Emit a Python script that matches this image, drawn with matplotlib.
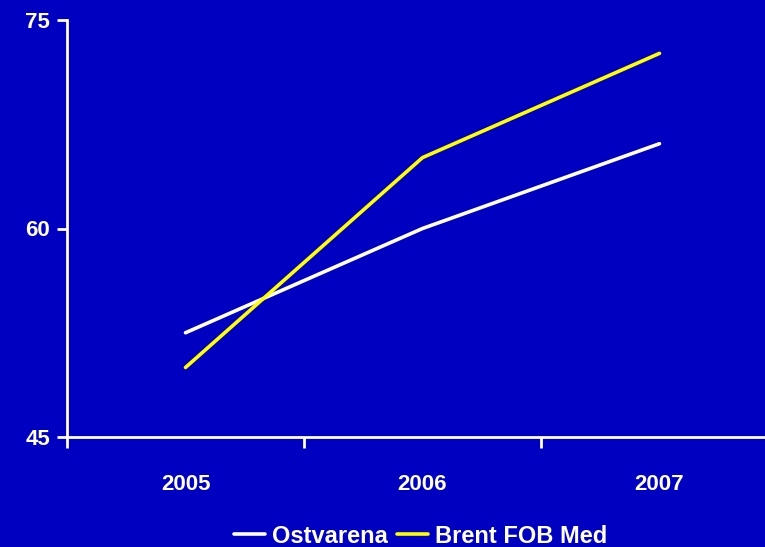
import numpy as np
import matplotlib.pyplot as plt

# data
years = ['2005', '2006', '2007']
ostvarena = [52.5, 60.0, 66.1]
brent_fob_med = [50.0, 65.1, 72.6]
y_ticks = [45, 60, 75]

bg = '#0000C0'
plt.rcParams['font.family'] = ['Liberation Sans', 'DejaVu Sans']
plt.rcParams['font.weight'] = 'bold'

fig = plt.figure(figsize=(7.65, 5.47), dpi=100, facecolor=bg)
ax = fig.add_axes([67 / 765, 110 / 547, 711 / 765, 417 / 547], facecolor=bg)

x = np.arange(len(years))
ax.plot(x, ostvarena, color='white', lw=2.6, label='Ostvarena', solid_capstyle='round')
ax.plot(x, brent_fob_med, color='yellow', lw=2.6, label='Brent FOB Med', solid_capstyle='round')

ax.set_xlim(-0.5, len(years) - 0.5)
ax.set_ylim(45, 75)

# category labels centred, tick marks between categories
ax.set_xticks(x)
ax.set_xticklabels(years, fontsize=16, fontweight='bold', color='white')
ax.tick_params(axis='x', which='major', length=0, pad=27)
ax.set_xticks(np.arange(-0.5, len(years), 1.0), minor=True)
ax.tick_params(axis='x', which='minor', length=8, width=2, color='white', direction='out')

ax.set_yticks(y_ticks)
ax.set_yticklabels([str(v) for v in y_ticks], fontsize=16, fontweight='bold', color='white')
ax.tick_params(axis='y', length=7, width=2, color='white', direction='out', pad=5)

for side in ['top', 'right']:
    ax.spines[side].set_visible(False)
for side in ['left', 'bottom']:
    ax.spines[side].set_color('white')
    ax.spines[side].set_linewidth(2)

leg = fig.legend(loc='center', bbox_to_anchor=(0.55, 0.02), ncol=2, frameon=False,
                 fontsize=17, handlelength=1.3, handletextpad=0.3, columnspacing=0.4,
                 labelcolor='white')
for t in leg.get_texts():
    t.set_fontweight('bold')

fig.savefig('out.png', dpi=100, facecolor=bg)
